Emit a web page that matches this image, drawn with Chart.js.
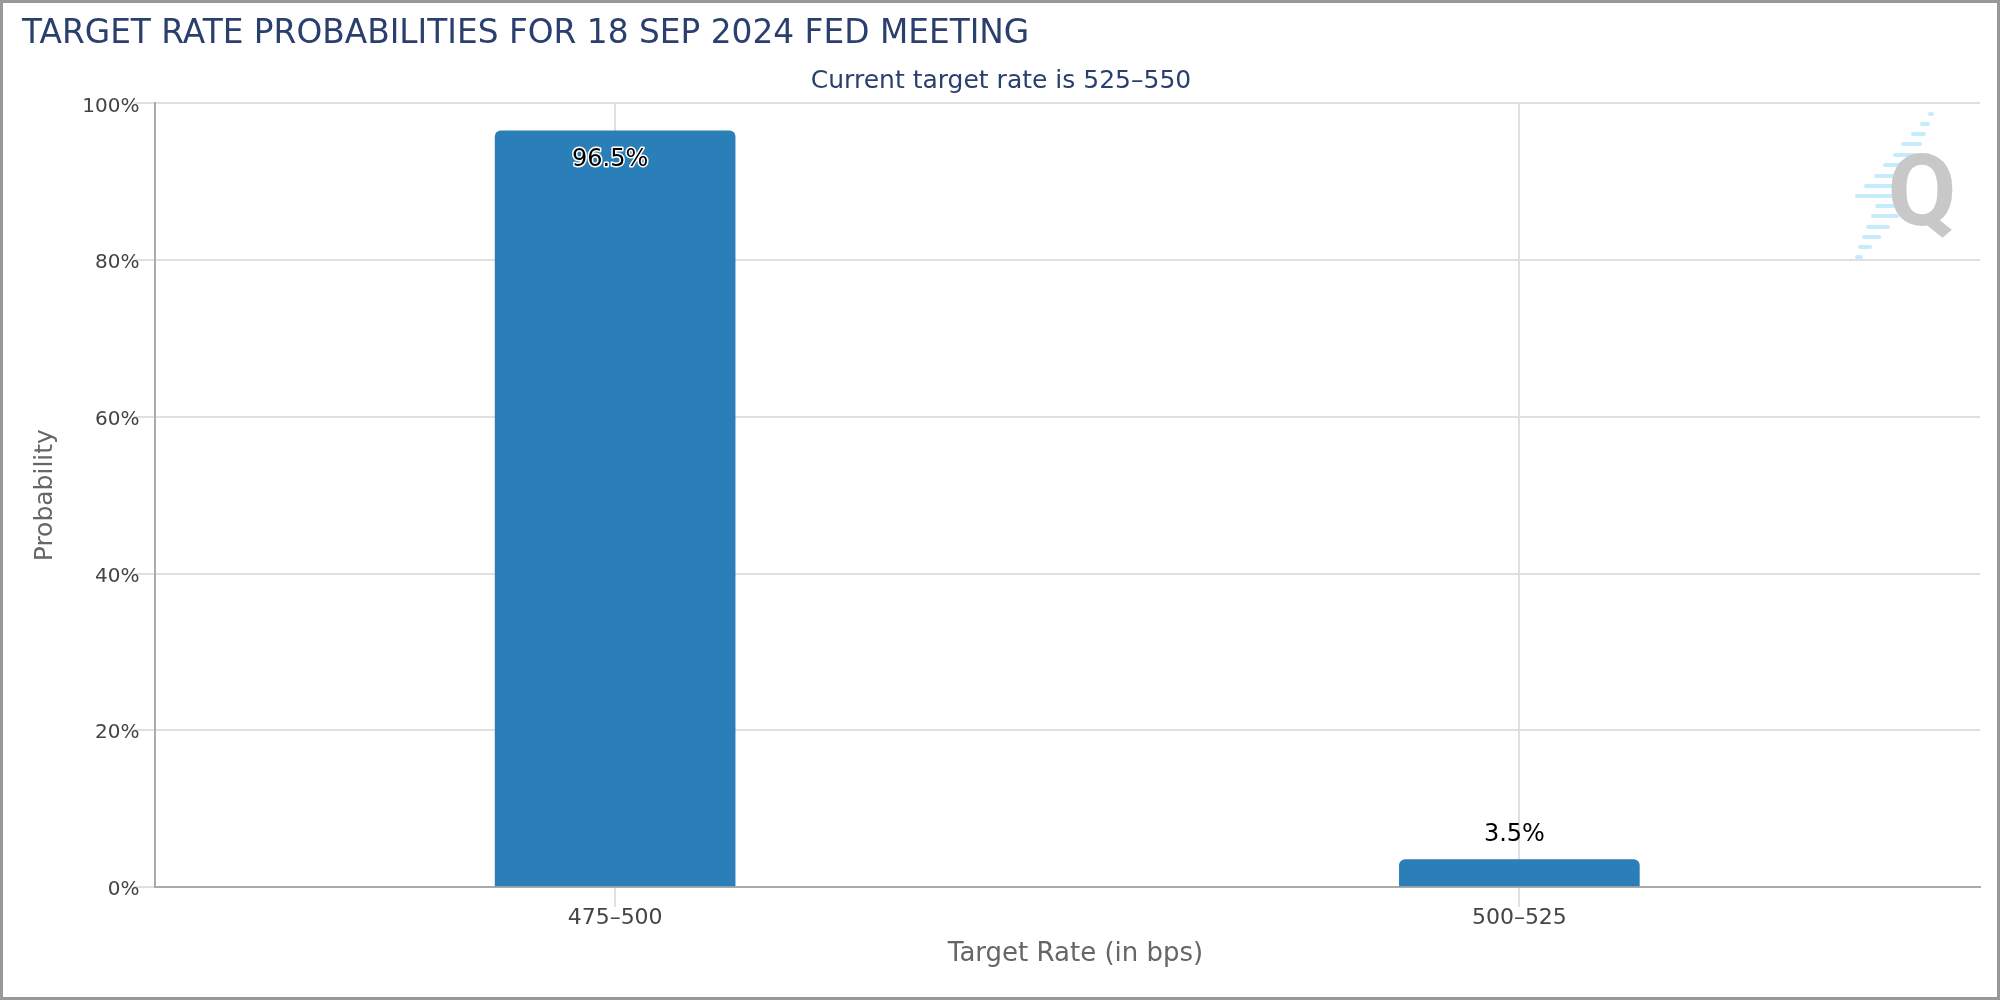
<!DOCTYPE html>
<html>
<head>
<meta charset="utf-8">
<title>Target rate probabilities</title>
<script src="https://cdn.jsdelivr.net/npm/chart.js@4"></script>
<style>
  html, body { margin: 0; padding: 0; background: #fff; }
  #frame { position: relative; width: 2000px; height: 1000px; box-shadow: inset 0 0 0 3px #999; }
  canvas { display: block; }
</style>
</head>
<body>
<div id="frame"><canvas id="rateChart" width="2000" height="1000"></canvas></div>
<script>
const categories = ["475–500", "500–525"];
const probabilities = [96.5, 3.5];
const yTicks = [0, 20, 40, 60, 80, 100];

const chartTitle = "TARGET RATE PROBABILITIES FOR 18 SEP 2024 FED MEETING";
const chartSubtitle = "Current target rate is 525–550";
const fontName = "'DejaVu Sans', sans-serif";

// value labels: inside the bar when tall, above it when short
const valueLabels = {
  id: "valueLabels",
  afterDatasetsDraw(chart) {
    const ctx = chart.ctx;
    const bars = chart.getDatasetMeta(0).data;
    ctx.save();
    ctx.font = "24px " + fontName;
    ctx.textAlign = "center";
    ctx.textBaseline = "middle";
    bars.forEach((bar, i) => {
      const text = probabilities[i] + "%";
      const inside = probabilities[i] > 50;
      const y = inside ? bar.y + 29 : bar.y - 25;
      if (inside) {
        ctx.strokeStyle = "#fff";
        ctx.lineWidth = 3;
        ctx.lineJoin = "round";
        ctx.strokeText(text, bar.x - 5, y);
      }
      ctx.fillStyle = "#000";
      ctx.fillText(text, bar.x - 5, y);
    });
    ctx.restore();
  }
};

// faint logo in the top right corner
const logoStripes = [
  [1930, 1932, 114], [1922, 1928, 124], [1913, 1924, 134], [1903, 1920, 144],
  [1895, 1913, 155], [1885, 1903, 165], [1876, 1893, 176], [1866, 1893, 186],
  [1857, 1893, 196], [1877, 1893, 206], [1873, 1897, 216], [1868, 1888, 227],
  [1864, 1879, 237], [1860, 1870, 247], [1857, 1861, 257]
];
const watermark = {
  id: "watermark",
  beforeDatasetsDraw(chart) {
    const ctx = chart.ctx;
    ctx.save();
    ctx.filter = "blur(0.7px)";
    ctx.strokeStyle = "#c4ecfd";
    ctx.lineWidth = 4;
    ctx.lineCap = "round";
    logoStripes.forEach(([x1, x2, y]) => {
      ctx.beginPath();
      ctx.moveTo(x1, y);
      ctx.lineTo(x2, y);
      ctx.stroke();
    });
    ctx.fillStyle = "#c8c8c8";
    ctx.font = "bold 100px Roboto, sans-serif";
    ctx.textAlign = "center";
    ctx.textBaseline = "alphabetic";
    ctx.fillText("Q", 1922, 225);
    ctx.restore();
  }
};

new Chart(document.getElementById("rateChart"), {
  type: "bar",
  data: {
    datasets: [{
      data: probabilities.map((value, i) => ({ x: i, y: value })),
      backgroundColor: "#2a7fb8",
      barThickness: 240,
      borderRadius: { topLeft: 6, topRight: 6 },
      borderSkipped: false
    }]
  },
  options: {
    responsive: false,
    animation: false,
    layout: { padding: { left: 22, right: 20, top: 15, bottom: 30 } },
    plugins: {
      legend: { display: false },
      tooltip: { enabled: false },
      title: {
        display: true,
        text: chartTitle,
        align: "start",
        color: "#2a3f6e",
        font: { family: fontName, size: 32.8, weight: "normal" },
        padding: { top: 0, bottom: 12 }
      },
      subtitle: {
        display: true,
        text: chartSubtitle,
        color: "#2a3f6e",
        font: { family: fontName, size: 25, weight: "normal" },
        padding: { top: 0, bottom: 7 }
      }
    },
    scales: {
      x: {
        type: "linear",
        offset: false,
        min: -0.5094,
        max: 1.5094,
        afterBuildTicks(scale) {
          scale.ticks = categories.map((c, i) => ({ value: i }));
        },
        afterFit(scale) { scale.height = 83; },
        border: { color: "#aaa", width: 2 },
        grid: { offset: false, color: "#e0e0e0", lineWidth: 2, tickLength: 20 },
        ticks: {
          color: "#444",
          font: { family: fontName, size: 22 },
          maxRotation: 0,
          padding: -2,
          callback: (value) => categories[value]
        },
        title: {
          display: true,
          // leading nbsp nudges the centred title right, as in the original
          text: "\u00a0\u00a0Target Rate (in bps)",
          color: "#666",
          font: { family: fontName, size: 26 },
          padding: { top: 8, bottom: 0 }
        }
      },
      y: {
        min: 0,
        max: 100,
        afterBuildTicks(scale) {
          scale.ticks = yTicks.map((value) => ({ value }));
        },
        afterFit(scale) { scale.width = 132.5; },
        border: { color: "#aaa", width: 2 },
        grid: { color: "#e0e0e0", lineWidth: 2, tickLength: 20 },
        ticks: {
          color: "#444",
          font: { family: fontName, size: 20 },
          padding: -5,
          labelOffset: 3,
          callback: (value) => value + "%"
        },
        title: {
          display: true,
          text: "Probability",
          color: "#666",
          font: { family: fontName, size: 25 },
          padding: { top: 8, bottom: 0 }
        }
      }
    }
  },
  plugins: [watermark, valueLabels]
});
</script>
</body>
</html>
